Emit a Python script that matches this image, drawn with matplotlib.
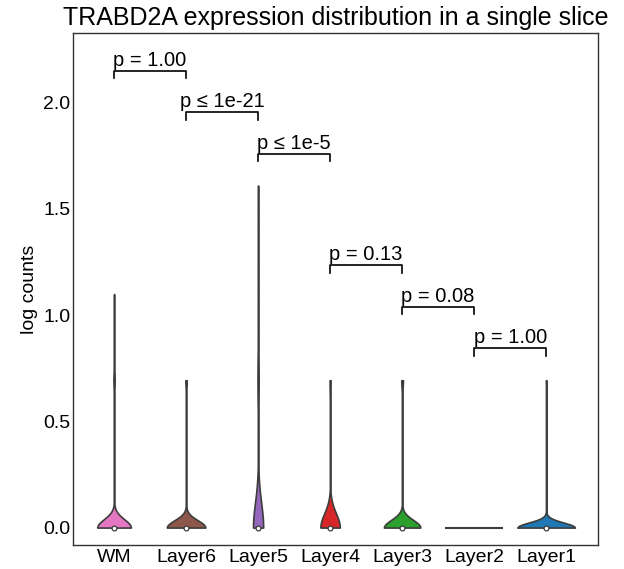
import numpy as np
import matplotlib
matplotlib.use("Agg")
import matplotlib.pyplot as plt

plt.rcParams['font.family'] = ['Liberation Sans', 'DejaVu Sans']

# spots per layer and how many spots had 1, 2 or 4 raw counts (rest are 0)
layers = ["WM", "Layer6", "Layer5", "Layer4", "Layer3", "Layer2", "Layer1"]
n_spots = [513, 692, 100, 60, 989, 253, 273]
spots_with_1 = [18, 24, 10, 3, 44, 0, 3]
spots_with_2 = [1, 0, 2, 0, 0, 0, 0]
spots_with_4 = [0, 0, 1, 0, 0, 0, 0]
colors = ["#e377c2", "#8c564b", "#9467bd", "#d62728", "#2ca02c", "#ff7f0e", "#1f77b4"]

# neighbouring pairs and their test results
pairs = [(0, 1), (1, 2), (2, 3), (3, 4), (4, 5), (5, 6)]
p_labels = ["p = 1.00", "p \u2264 1e-21", "p \u2264 1e-5", "p = 0.13", "p = 0.08", "p = 1.00"]

gray = "#3d3d3d"
width = 0.8


def build_data(i):
    n0 = n_spots[i] - spots_with_1[i] - spots_with_2[i] - spots_with_4[i]
    raw = np.repeat([0, 1, 2, 4], [n0, spots_with_1[i], spots_with_2[i], spots_with_4[i]])
    return np.log1p(raw)


def kde(x, grid):
    # gaussian kde, scott bandwidth
    bw = x.std(ddof=1) * len(x) ** (-1 / 5)
    z = (grid[:, None] - x[None, :]) / bw
    return np.exp(-0.5 * z ** 2).sum(axis=1) / (len(x) * bw * np.sqrt(2 * np.pi))


data = [build_data(i) for i in range(len(layers))]

supports = []
densities = []
for x in data:
    if np.unique(x).size == 1:
        supports.append(np.unique(x))
        densities.append(np.array([1.0]))
    else:
        grid = np.linspace(x.min(), x.max(), 100)
        supports.append(grid)
        densities.append(kde(x, grid))

# area scaling: all multi-valued violins share one max
max_d = max(d.max() for d in densities if d.size > 1)

fig = plt.figure(figsize=(6.24, 5.69), dpi=100)
ax = fig.add_axes([73 / 624, 1 - 545 / 569, (598 - 73) / 624, (545 - 33) / 569])

for i, (s, d) in enumerate(zip(supports, densities)):
    if d.size == 1:
        ax.plot([i - width / 2, i + width / 2], [s[0], s[0]], color=gray, lw=1.5, solid_capstyle="butt")
        continue
    d = d / max_d * width / 2
    ax.fill_betweenx(s, i - d, i + d, facecolor=colors[i], edgecolor=gray, lw=1.2, zorder=2)
    x = data[i]
    ax.scatter(i, np.median(x), s=12, color="white", edgecolor=gray, lw=0.9, zorder=3)

# significance brackets, stacked from the right
tick_h = 0.035
prev = -np.inf
levels = {}
for k in reversed(range(len(pairs))):
    a, b = pairs[k]
    top = max(data[a].max(), data[b].max())
    y = max(top + 0.15, prev + 0.195)
    levels[k] = y
    prev = y
for k, (a, b) in enumerate(pairs):
    y = levels[k]
    ax.plot([a, a, b, b], [y - tick_h, y, y, y - tick_h], color="black", lw=1.2)
    ax.text((a + b) / 2, y + 0.005, p_labels[k], ha="center", va="bottom", fontsize=14.5)

ax.set_xlim(-0.57, 6.72)
ax.set_ylim(-0.082, 2.327)
ax.set_xticks(range(len(layers)))
ax.set_xticklabels(layers)
ax.set_yticks([0, 0.5, 1.0, 1.5, 2.0])
ax.set_yticklabels(["0.0", "0.5", "1.0", "1.5", "2.0"])
ax.tick_params(length=0, labelsize=14, pad=3)
ax.tick_params(axis="y", pad=2)
ax.set_ylabel("log counts", fontsize=14)
ax.set_title("TRABD2A expression distribution in a single slice", fontsize=18, pad=6)
for sp in ax.spines.values():
    sp.set_color("#333333")
    sp.set_linewidth(1.0)

fig.savefig("out.png", dpi=100)
